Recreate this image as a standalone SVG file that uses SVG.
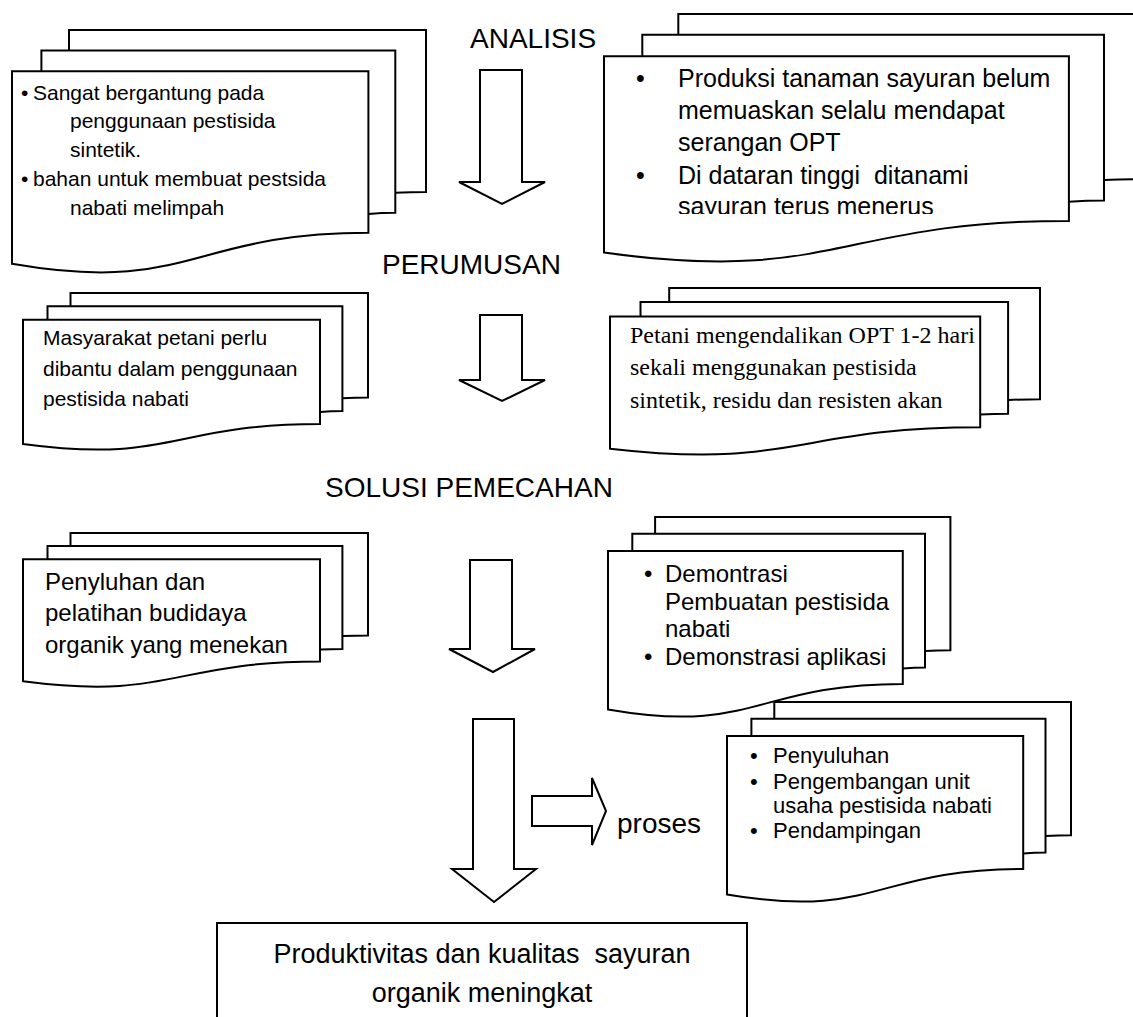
<svg xmlns="http://www.w3.org/2000/svg" width="1133" height="1017" viewBox="0 0 1133 1017">
<style>
.pg{fill:#fff;stroke:#000;stroke-width:2;stroke-linejoin:miter}
.ar{fill:#fff;stroke:#000;stroke-width:2;stroke-linejoin:miter}
.t{font-family:"Liberation Sans",Arial,sans-serif;fill:#000}
.s{font-family:"Liberation Serif","Times New Roman",serif;fill:#000}
.h{font-size:28px}
</style>
<defs>
<clipPath id="clipB"><rect x="600" y="50" width="470" height="164"/></clipPath>
</defs>
<rect x="0" y="0" width="1133" height="1017" fill="#fff"/>

<g id="titles">
<text class="t h" x="470" y="48">ANALISIS</text>
<text class="t h" x="382" y="274">PERUMUSAN</text>
<text class="t h" x="325" y="497">SOLUSI PEMECAHAN</text>
</g>

<g id="connectors">
<path class="ar" d="M480,70 H522 V182 H545 L502,204 L459,182 H480 Z"/>
<path class="ar" d="M480,315 H522 V380 H545 L502,401 L459,380 H480 Z"/>
<path class="ar" d="M470,560 H512 V649 H535 L493,672 L449,649 H470 Z"/>
<path class="ar" d="M473,719 H514 V869 H536 L494,902 L452,869 H473 Z"/>
<path class="ar" d="M532,796 H592 V778 L606,811 L592,845 V826 H532 Z"/>
<text class="t h" x="617" y="833">proses</text>
</g>

<g id="doc-analisis-left">
<path class="pg" d="M69,50.4 V30 H426 V191.9 C410.7,191.9 395.3,192.8 395.3,192.8"/>
<path class="pg" d="M41.4,71.3 V50.4 H395.3 V212.8 C381.9,212.8 368.4,214 368.4,214"/>
<path class="pg" d="M12,71.3 H368.4 V232.8 C190.2,232.8 190.2,294.8 12,263.8 Z"/>
<text class="t" font-size="21">
<tspan x="21" y="100">•</tspan><tspan x="33" y="100">Sangat bergantung pada</tspan>
<tspan x="70" y="128">penggunaan pestisida</tspan>
<tspan x="70" y="157">sintetik.</tspan>
<tspan x="21" y="186">•</tspan><tspan x="33" y="186">bahan untuk membuat pestsida</tspan>
<tspan x="70" y="215">nabati melimpah</tspan>
</text>
</g>

<g id="doc-analisis-right">
<path class="pg" d="M678.3,34.8 V14 H1144 V179.2 C1124,179.2 1104,180.1 1104,180.1"/>
<path class="pg" d="M642.3,56.2 V34.8 H1104 V200.6 C1086.4,200.6 1068.9,201.7 1068.9,201.7"/>
<path class="pg" d="M604,56.2 H1068.9 V220.9 C836.5,220.9 836.5,284.3 604,252.6 Z"/>
<g clip-path="url(#clipB)">
<text class="t" font-size="25" xml:space="preserve"><tspan x="636" y="87">•</tspan><tspan x="678" y="87">Produksi tanaman sayuran belum</tspan><tspan x="678" y="119">memuaskan selalu mendapat</tspan><tspan x="678" y="151">serangan OPT</tspan><tspan x="636" y="184">•</tspan><tspan x="678" y="184">Di dataran tinggi  ditanami</tspan><tspan x="678" y="215">sayuran terus menerus</tspan></text>
</g>
</g>

<g id="doc-perumusan-left">
<path class="pg" d="M70.5,306.2 V293 H368 V397.6 C355.2,397.6 342.4,398.2 342.4,398.2"/>
<path class="pg" d="M47.5,319.7 V306.2 H342.4 V411.1 C331.2,411.1 320,411.9 320,411.9"/>
<path class="pg" d="M23,319.7 H320 V424 C171.5,424 171.5,464.1 23,444 Z"/>
<text class="t" font-size="21">
<tspan x="43" y="345">Masyarakat petani perlu</tspan>
<tspan x="43" y="376">dibantu dalam penggunaan</tspan>
<tspan x="43" y="406">pestisida nabati</tspan>
</text>
</g>

<g id="doc-perumusan-right">
<path class="pg" d="M669.2,302 V288 H1040 V399.3 C1024.1,399.3 1008.1,399.9 1008.1,399.9"/>
<path class="pg" d="M640.5,316.4 V302 H1008.1 V413.7 C994.2,413.7 980.2,414.4 980.2,414.4"/>
<path class="pg" d="M610,316.4 H980.2 V427.3 C795.1,427.3 795.1,470 610,448.7 Z"/>
<text class="s" font-size="24">
<tspan x="630" y="343">Petani mengendalikan OPT 1-2 hari</tspan>
<tspan x="630" y="375">sekali menggunakan pestisida</tspan>
<tspan x="630" y="408">sintetik, residu dan resisten akan</tspan>
</text>
</g>

<g id="doc-proses">
<path class="pg" d="M774.3,718.8 V702 H1071 V835.3 C1058.3,835.3 1045.5,836 1045.5,836"/>
<path class="pg" d="M751.4,736 V718.8 H1045.5 V852.5 C1034.3,852.5 1023.2,853.4 1023.2,853.4"/>
<path class="pg" d="M727,736 H1023.2 V868.9 C875.1,868.9 875.1,920 727,894.4 Z"/>
<text class="t" font-size="22">
<tspan x="750" y="763">•</tspan><tspan x="773" y="763">Penyuluhan</tspan>
<tspan x="750" y="789">•</tspan><tspan x="773" y="789">Pengembangan unit</tspan>
<tspan x="773" y="813">usaha pestisida nabati</tspan>
<tspan x="750" y="838">•</tspan><tspan x="773" y="838">Pendampingan</tspan>
</text>
</g>

<g id="doc-solusi-left">
<path class="pg" d="M70.5,545.9 V533 H368 V635.6 C355.2,635.6 342.4,636.1 342.4,636.1"/>
<path class="pg" d="M47.5,559.2 V545.9 H342.4 V648.9 C331.2,648.9 320,649.6 320,649.6"/>
<path class="pg" d="M23,559.2 H320 V661.5 C171.5,661.5 171.5,700.8 23,681.2 Z"/>
<text class="t" font-size="24">
<tspan x="45" y="590">Penyluhan dan</tspan>
<tspan x="45" y="621">pelatihan budidaya</tspan>
<tspan x="45" y="653">organik yang menekan</tspan>
</text>
</g>

<g id="doc-solusi-right">
<path class="pg" d="M655.1,533.8 V517 H950.4 V650.3 C937.7,650.3 925,651 925,651"/>
<path class="pg" d="M632.3,551 V533.8 H925 V667.5 C913.9,667.5 902.8,668.4 902.8,668.4"/>
<path class="pg" d="M608,551 H902.8 V683.9 C755.4,683.9 755.4,735 608,709.4 Z"/>
<text class="t" font-size="24">
<tspan x="644" y="582">•</tspan><tspan x="665" y="582">Demontrasi</tspan>
<tspan x="665" y="610">Pembuatan pestisida</tspan>
<tspan x="665" y="637">nabati</tspan>
<tspan x="644" y="665">•</tspan><tspan x="665" y="665">Demonstrasi aplikasi</tspan>
</text>
</g>

<g id="result">
<rect x="217" y="923" width="530" height="120" fill="#fff" stroke="#000" stroke-width="2"/>
<text class="t" font-size="27" text-anchor="middle" xml:space="preserve"><tspan x="482" y="963">Produktivitas dan kualitas  sayuran</tspan><tspan x="482" y="1002">organik meningkat</tspan></text>
</g>
</svg>
